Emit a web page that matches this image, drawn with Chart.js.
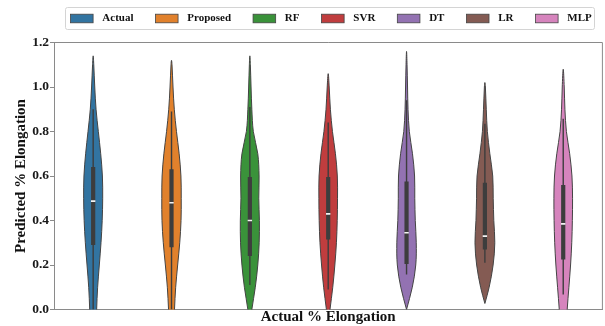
<!DOCTYPE html>
<html>
<head>
<meta charset="utf-8">
<script src="https://cdn.jsdelivr.net/npm/chart.js@4.4.1/dist/chart.umd.min.js"></script>
<style>
  html, body { margin: 0; padding: 0; background: #fff; overflow: hidden; }
  #wrap { width: 608px; height: 326px; }
</style>
</head>
<body>
<div id="wrap"><canvas id="violin-chart" width="608" height="326"></canvas></div>
<script>
'use strict';
// ******* DATA ********
const models = ['Actual', 'Proposed', 'RF', 'SVR', 'DT', 'LR', 'MLP'];
const colors = ['#3274a1', '#e1812c', '#3a923a', '#c03d3e', '#9372b2', '#845b53', '#d684bd'];

// density profile (half width) read at these levels
const levels = [-0.05, 0, 0.1, 0.2, 0.3, 0.4, 0.5, 0.6, 0.7, 0.8, 0.9, 1.0, 1.1];
const actualDensity = [3.3, 3.5, 4.5, 6.2, 7.9, 9.1, 9.6, 9.3, 7.6, 5.2, 2.9, 1.6, 0.6];
const proposedDensity = [2.5, 3.0, 4.2, 6.2, 8.3, 9.6, 9.8, 9.5, 7.7, 5.0, 2.8, 1.5, 0.5];
const rfDensity = [0.8, 2.0, 5.5, 8.0, 9.4, 9.6, 9.0, 9.3, 8.0, 3.5, 2.0, 1.2, 0.5];
const svrDensity = [0.5, 1.8, 4.6, 6.7, 8.3, 9.1, 9.4, 9.2, 7.3, 4.3, 2.2, 1.0, null];
const dtDensity = [null, null, 5.8, 9.3, 9.8, 8.8, 8.3, 8.1, 6.0, 2.8, 1.5, 1.0, 0.5];
const lrDensity = [null, null, 4.3, 8.3, 10.0, 9.0, 8.4, 7.9, 5.0, 2.5, 1.4, 0.5, null];
const mlpDensity = [3.5, 4.0, 5.7, 7.4, 8.6, 9.2, 9.4, 8.8, 6.5, 3.2, 1.7, 1.0, null];
const densities = [actualDensity, proposedDensity, rfDensity, svrDensity, dtDensity, lrDensity, mlpDensity];

const tops = [1.14, 1.12, 1.14, 1.06, 1.16, 1.02, 1.08];
const bottoms = [null, null, null, null, 0.0, 0.027, null]; // null = runs below the axis

const q1s = [0.29, 0.28, 0.24, 0.315, 0.205, 0.27, 0.225];
const q3s = [0.64, 0.63, 0.595, 0.595, 0.575, 0.57, 0.56];
const medians = [0.487, 0.48, 0.40, 0.43, 0.345, 0.33, 0.385];
const whiskerLo = [0, 0, 0.11, 0.09, 0.157, 0.21, 0.067];
const whiskerHi = [0.90, 0.89, 0.91, 0.84, 0.94, 0.835, 0.857];

const yTicks = [0, 0.2, 0.4, 0.6, 0.8, 1.0, 1.2];

const densityToX = 1 / 79;
const serif = '"Liberation Serif", "Times New Roman", serif';

// ******* BUILD SHAPES ********
function violinPoints(i) {
  let d = densities[i];
  let top = tops[i];
  let bottom = bottoms[i];
  let side = [];
  for (let k = 0; k < levels.length; k++) {
    if (d[k] === null) continue;
    if (bottom !== null && levels[k] <= bottom) continue;
    if (levels[k] >= top) continue;
    side.push([levels[k], d[k]]);
  }
  let pts = [];
  if (bottom !== null) pts.push({x: i, y: bottom});
  side.forEach(s => pts.push({x: i + s[1] * densityToX, y: s[0]}));
  pts.push({x: i, y: top});
  side.slice().reverse().forEach(s => pts.push({x: i - s[1] * densityToX, y: s[0]}));
  if (bottom !== null) pts.push({x: i, y: bottom});
  return pts;
}

function rangePoints(lo, hi) {
  let pts = [];
  for (let i = 0; i < models.length; i++) {
    pts.push({x: i, y: lo[i]}, {x: i, y: hi[i]}, {x: i, y: null});
  }
  return pts;
}

let datasets = [];
datasets.push({
  label: 'median',
  data: medians.map((m, i) => ({x: i, y: m})),
  showLine: false,
  pointStyle: 'line',
  pointRadius: 2.2,
  pointBorderWidth: 1.6,
  pointBorderColor: '#f4f4f4',
  order: 1
});
datasets.push({
  label: 'box',
  data: rangePoints(q1s, q3s),
  borderColor: '#3d3d3d',
  borderWidth: 4.2,
  borderCapStyle: 'butt',
  pointRadius: 0,
  order: 2
});
datasets.push({
  label: 'whisker',
  data: rangePoints(whiskerLo, whiskerHi),
  borderColor: '#3d3d3d',
  borderWidth: 1.4,
  borderCapStyle: 'butt',
  pointRadius: 0,
  order: 3
});
for (let i = 0; i < models.length; i++) {
  datasets.push({
    label: models[i],
    data: violinPoints(i),
    borderColor: '#444',
    borderWidth: 1,
    backgroundColor: colors[i],
    fill: 'shape',
    tension: 0.35,
    pointRadius: 0,
    order: 4
  });
}

// ******* PLUGINS ********
const frameLines = {
  id: 'frameLines',
  afterDraw(chart) {
    let {ctx, chartArea} = chart;
    ctx.save();
    ctx.strokeStyle = '#8a8a8a';
    ctx.lineWidth = 1;
    ctx.beginPath();
    ctx.moveTo(chartArea.left, chartArea.top);
    ctx.lineTo(chartArea.right, chartArea.top);
    ctx.lineTo(chartArea.right, chartArea.bottom);
    ctx.stroke();
    ctx.restore();
  }
};

const legendBox = {
  id: 'legendBox',
  afterDraw(chart) {
    let ctx = chart.ctx;
    ctx.save();
    ctx.strokeStyle = '#d4d4d4';
    ctx.lineWidth = 1;
    ctx.fillStyle = 'rgba(255,255,255,0.8)';
    ctx.beginPath();
    ctx.roundRect(65.5, 7.5, 529, 22, 2);
    ctx.fill();
    ctx.stroke();

    ctx.font = 'bold 11px ' + serif;
    ctx.textBaseline = 'middle';
    let x = 70.5;
    let y = 18.5;
    for (let i = 0; i < models.length; i++) {
      ctx.fillStyle = colors[i];
      ctx.fillRect(x, y - 4.3, 22.6, 8.6);
      ctx.strokeStyle = '#444';
      ctx.lineWidth = 0.8;
      ctx.strokeRect(x, y - 4.3, 22.6, 8.6);
      x += 22.6 + 9.2;
      ctx.fillStyle = '#111';
      ctx.fillText(models[i], x, y);
      x += ctx.measureText(models[i]).width + 22;
    }
    ctx.restore();
  }
};

// ******* CHART ********
let canvasElem = document.getElementById('violin-chart');
new Chart(canvasElem, { // eslint-disable-line
  type: 'line',
  data: { datasets: datasets },
  options: {
    responsive: false,
    animation: false,
    devicePixelRatio: 1,
    events: [],
    layout: { padding: { top: 42.5, left: 12, right: 1, bottom: 1.5 } },
    plugins: {
      legend: { display: false },
      tooltip: { enabled: false }
    },
    scales: {
      x: {
        type: 'linear',
        min: -0.5,
        max: 6.5,
        ticks: { display: false },
        grid: { display: false, drawTicks: false },
        border: { display: true, color: '#8a8a8a', width: 1 },
        title: {
          display: true,
          text: 'Actual % Elongation',
          color: '#111',
          font: { family: serif, size: 15, weight: 'bold', lineHeight: 1 },
          padding: { top: 0, bottom: 0 }
        }
      },
      y: {
        type: 'linear',
        min: 0,
        max: 1.2,
        afterBuildTicks: s => { s.ticks = yTicks.map(v => ({value: v})); },
        afterFit: s => { s.width = 42; },
        ticks: {
          color: '#1a1a1a',
          padding: 1,
          font: { family: serif, size: 13.5, weight: 'bold' },
          callback: v => v.toFixed(1)
        },
        grid: { display: true, drawOnChartArea: false, drawTicks: true, tickLength: 4, color: '#8a8a8a' },
        border: { display: true, color: '#8a8a8a', width: 1 },
        title: {
          display: true,
          text: 'Predicted % Elongation',
          color: '#111',
          font: { family: serif, size: 15, weight: 'bold', lineHeight: 1.2 },
          padding: { top: 0, bottom: 0 }
        }
      }
    }
  },
  plugins: [frameLines, legendBox]
});
</script>
</body>
</html>
